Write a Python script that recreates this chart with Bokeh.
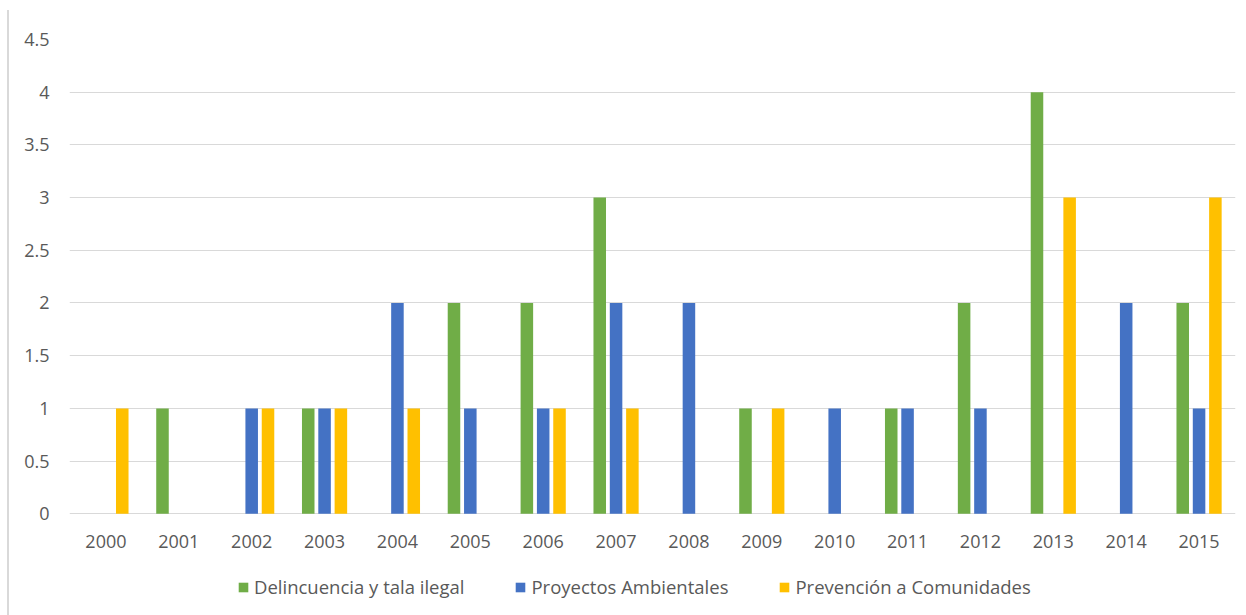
from bokeh.plotting import figure
from bokeh.models import Range1d, FactorRange, Legend, LegendItem
from bokeh.core.properties import value
from bokeh.transform import dodge
from bokeh.embed import file_html
from bokeh.resources import INLINE

# Yearly counts per category
years = [str(y) for y in range(2000, 2016)]
delincuencia = [0, 1, 0, 1, 0, 2, 2, 3, 0, 1, 0, 1, 2, 4, 0, 2]
proyectos = [0, 0, 1, 1, 2, 1, 1, 2, 2, 0, 1, 1, 1, 0, 2, 1]
prevencion = [1, 0, 1, 1, 1, 0, 1, 1, 0, 1, 0, 0, 0, 3, 0, 3]

series_names = ["Delincuencia y tala ilegal", "Proyectos Ambientales", "Prevención a Comunidades"]
series_colors = ["#70AD47", "#4472C4", "#FFC000"]
y_ticks = [0, 0.5, 1, 1.5, 2, 2.5, 3, 3.5, 4, 4.5]

FONT = "Open Sans"
TEXT = "#595959"
GRID = "#D9D9D9"

# The frame runs down to the bottom edge so the category labels and the
# legend can sit under the zero line inside it.
p = figure(
    width=1239, height=605,
    x_range=FactorRange(*years),
    y_range=Range1d(-0.965, 4.5),
    output_backend="svg", toolbar_location=None,
    min_border_left=60, min_border_right=13,
    min_border_top=29, min_border_bottom=0,
)
p.margin = (10, 0, 0, 7)
p.styles = {"border-left": f"2px solid {GRID}"}
p.outline_line_color = None
p.background_fill_color = "white"
p.border_fill_color = "white"

data = dict(year=years, d=delincuencia, p=proyectos, v=prevencion)
renderers = []
for key, off, color in zip(["d", "p", "v"], [-0.224, 0.0, 0.224], series_colors):
    r = p.vbar(x=dodge("year", off, range=p.x_range), top=key, width=0.172,
               source=data, fill_color=color, line_color=None)
    renderers.append(r)

# Category labels under the zero line
p.text(x=years, y=[0] * len(years), text=years,
       text_font=value(FONT), text_font_size="18px", text_color=TEXT,
       text_align="center", text_baseline="alphabetic", y_offset=28)

# Axes
p.xaxis.visible = False
p.yaxis.ticker = y_ticks
p.yaxis.major_label_overrides = {0: "0", 1: "1", 2: "2", 3: "3", 4: "4"}
p.yaxis.major_tick_line_color = None
p.yaxis.minor_tick_line_color = None
p.yaxis.major_label_text_font = FONT
p.yaxis.major_label_text_font_size = "18px"
p.yaxis.major_label_text_color = TEXT
p.yaxis.axis_line_color = None
p.yaxis.major_label_standoff = 14

p.xgrid.grid_line_color = None
p.ygrid.grid_line_color = GRID
p.ygrid.grid_line_width = 1

legend = Legend(
    items=[LegendItem(label=n, renderers=[r]) for n, r in zip(series_names, renderers)],
    orientation="horizontal",
    location=(168, 16),
    glyph_width=12, glyph_height=12,
    label_standoff=5, spacing=50,
    label_text_font=FONT, label_text_font_size="18.5px", label_text_color=TEXT,
    label_height=20, padding=0, margin=0,
    border_line_color=None, background_fill_alpha=0,
)
p.add_layout(legend, "center")

open("out.html", "w").write(file_html(p, INLINE))
